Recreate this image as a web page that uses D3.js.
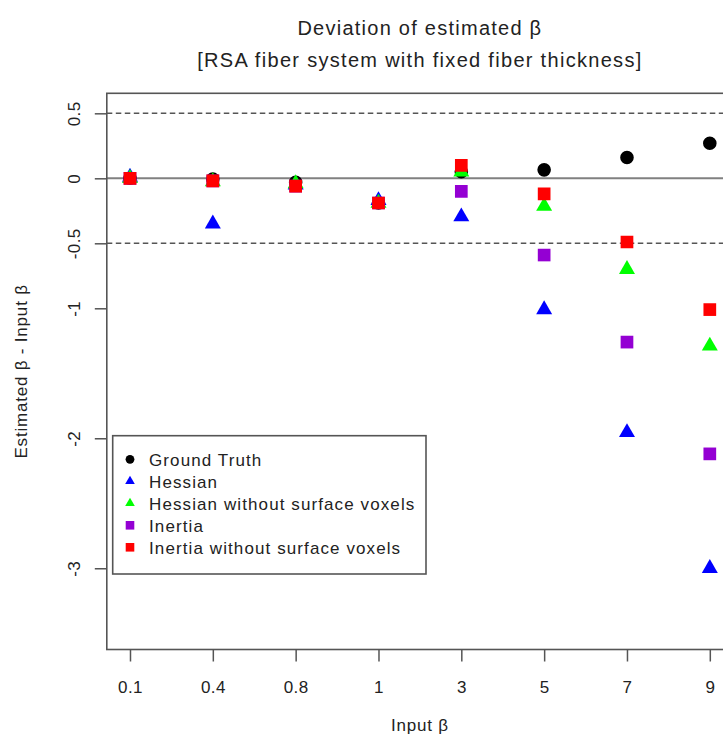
<!DOCTYPE html>
<html>
<head>
<meta charset="utf-8">
<script src="https://cdn.jsdelivr.net/npm/d3@7"></script>
<style>
  html, body { margin: 0; padding: 0; background: #fff; }
  svg text { font-family: "Liberation Sans", Arial, Helvetica, sans-serif; fill: #222; }
</style>
</head>
<body>
<svg id="chart" width="723" height="740"></svg>
<script>
// Input beta categories (evenly spaced on the x axis)
const categories = ["0.1", "0.4", "0.8", "1", "3", "5", "7", "9"];

// Deviation (estimated beta - input beta) per method
const groundTruth   = [0.00, -0.005, -0.03, -0.19, 0.05, 0.065, 0.16, 0.27];
const hessian       = [0.01, -0.35, -0.05, -0.17, -0.295, -1.01, -1.955, -3.00];
const hessianNoSurf = [0.00, -0.025, -0.04, -0.19, 0.05, -0.215, -0.70, -1.29];
const inertia       = [0.00, -0.02, -0.06, -0.19, -0.10, -0.59, -1.26, -2.12];
const inertiaNoSurf = [0.00, -0.02, -0.06, -0.19, 0.10, -0.12, -0.49, -1.01];

const yTicks = [0.5, 0, -0.5, -1, -2, -3];
const refLines = [0.5, -0.5];

const series = [
  { name: "Ground Truth", values: groundTruth, shape: "circle", color: "#000000" },
  { name: "Hessian", values: hessian, shape: "triangle", color: "#0000FF" },
  { name: "Hessian without surface voxels", values: hessianNoSurf, shape: "triangle", color: "#00FF00" },
  { name: "Inertia", values: inertia, shape: "square", color: "#9400D3" },
  { name: "Inertia without surface voxels", values: inertiaNoSurf, shape: "square", color: "#FF0000" }
];

const svg = d3.select("#chart");

// Plot region (the right side runs past the canvas edge)
const plotLeft = 106.8, plotRight = 733, plotTop = 93.3, plotBottom = 649.5;

const x = d3.scaleLinear().domain([0.72, categories.length + 0.28]).range([plotLeft, plotRight]);
const y = d3.scaleLinear().domain([-3.625, 0.654]).range([plotBottom, plotTop]);

// Marker path builders: centred circle, square and centroid-centred triangle
function markerPath(shape, size) {
  const p = d3.path();
  if (shape === "circle") {
    const r = size / 2;
    p.arc(0, 0, r, 0, 2 * Math.PI);
  } else if (shape === "square") {
    const h = size / 2;
    p.rect(-h, -h, size, size);
  } else {
    const s = size, hgt = s * Math.sqrt(3) / 2;
    p.moveTo(0, -hgt * 2 / 3);
    p.lineTo(s / 2, hgt / 3);
    p.lineTo(-s / 2, hgt / 3);
    p.closePath();
  }
  return p.toString();
}
const plotSize = { circle: 13.6, square: 12.7, triangle: 16 };
const legendSize = { circle: 8.8, square: 8.6, triangle: 9.6 };

// Reference lines
svg.append("g").selectAll("line").data(refLines).join("line")
  .attr("x1", plotLeft).attr("x2", plotRight)
  .attr("y1", d => y(d)).attr("y2", d => y(d))
  .attr("stroke", "#555").attr("stroke-width", 1.4)
  .attr("stroke-dasharray", "5.5,3.5");

svg.append("line")
  .attr("x1", plotLeft).attr("x2", plotRight)
  .attr("y1", y(0)).attr("y2", y(0))
  .attr("stroke", "#808080").attr("stroke-width", 2);

// Points
svg.append("clipPath").attr("id", "plotclip")
  .append("rect").attr("x", plotLeft).attr("y", plotTop)
  .attr("width", plotRight - plotLeft).attr("height", plotBottom - plotTop);

const pts = svg.append("g").attr("clip-path", "url(#plotclip)");
series.forEach(s => {
  pts.append("g").selectAll("path").data(s.values).join("path")
    .attr("d", markerPath(s.shape, plotSize[s.shape]))
    .attr("transform", (d, i) => `translate(${x(i + 1)},${y(d)})`)
    .attr("fill", s.color);
});

// Box
svg.append("rect")
  .attr("x", plotLeft).attr("y", plotTop)
  .attr("width", plotRight - plotLeft).attr("height", plotBottom - plotTop)
  .attr("fill", "none").attr("stroke", "#555").attr("stroke-width", 1.6);

// X axis
const xAxis = d3.axisBottom(x)
  .tickValues(d3.range(1, categories.length + 1))
  .tickFormat(i => categories[i - 1])
  .tickSize(12).tickPadding(19);
const gx = svg.append("g").attr("transform", `translate(0,${plotBottom})`).call(xAxis);
gx.select(".domain").remove();
gx.selectAll(".tick line").attr("stroke", "#555").attr("stroke-width", 1.5);
gx.selectAll(".tick text").attr("font-size", 17).attr("fill", "#222")
  .attr("letter-spacing", 0.4)
  .attr("font-family", "Liberation Sans, Arial, sans-serif");

// Y axis
const yAxis = d3.axisLeft(y).tickValues(yTicks).tickFormat(d => String(d)).tickSize(12);
const gy = svg.append("g").attr("transform", `translate(${plotLeft},0)`).call(yAxis);
gy.select(".domain").remove();
gy.selectAll(".tick line").attr("stroke", "#555").attr("stroke-width", 1.5);
gy.selectAll(".tick text")
  .attr("font-size", 17).attr("fill", "#222")
  .attr("letter-spacing", 0.4)
  .attr("font-family", "Liberation Sans, Arial, sans-serif")
  .attr("x", null).attr("dy", null)
  .attr("text-anchor", "middle")
  .attr("transform", `translate(${80 - plotLeft},0) rotate(-90)`);

// Titles
const cx = (plotLeft + plotRight) / 2;
svg.append("text").attr("x", cx).attr("y", 34.5).attr("text-anchor", "middle")
  .attr("font-size", 20).attr("letter-spacing", 1.25).text("Deviation of estimated β");
svg.append("text").attr("x", cx).attr("y", 67).attr("text-anchor", "middle")
  .attr("font-size", 20).attr("letter-spacing", 1.3).text("[RSA fiber system with fixed fiber thickness]");
svg.append("text").attr("x", cx).attr("y", 731).attr("text-anchor", "middle")
  .attr("font-size", 17).attr("letter-spacing", 0.8).text("Input β");
svg.append("text")
  .attr("transform", `translate(27,${(plotTop + plotBottom) / 2}) rotate(-90)`)
  .attr("text-anchor", "middle").attr("font-size", 17).attr("letter-spacing", 0.8)
  .text("Estimated β - Input β");

// Legend
const lg = svg.append("g");
lg.append("rect").attr("x", 112.7).attr("y", 435.7)
  .attr("width", 313.3).attr("height", 138.3)
  .attr("fill", "#fff").attr("stroke", "#555").attr("stroke-width", 1.6);
const rows = lg.selectAll("g.row").data(series).join("g")
  .attr("transform", (d, i) => `translate(130,${459.3 + i * 22})`);
rows.append("path").attr("d", d => markerPath(d.shape, legendSize[d.shape]))
  .attr("fill", d => d.color);
rows.append("text").attr("x", 19).attr("y", 6.3).attr("font-size", 17)
  .attr("letter-spacing", 1.1)
  .text(d => d.name);
</script>
</body>
</html>
